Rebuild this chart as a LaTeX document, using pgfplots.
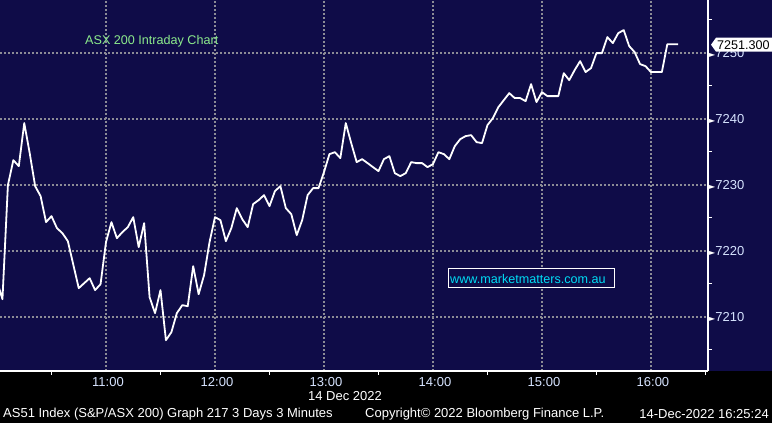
\documentclass[border=0pt]{standalone}
\usepackage{fontspec}
\setmainfont{Liberation Sans}
\newfontfamily\symfont{DejaVu Sans}
\usepackage{pgfplots}
\pgfplotsset{compat=1.18}
\definecolor{bbnavy}{RGB}{15,12,72}
\definecolor{gridgray}{RGB}{140,140,150}
\definecolor{ticktext}{RGB}{215,228,255}
\definecolor{titlegreen}{RGB}{140,235,140}
\definecolor{urlcyan}{RGB}{0,220,245}

\begin{document}
\fontsize{12.6}{15}\selectfont
\begin{tikzpicture}
\path[use as bounding box] (0,-52pt) rectangle (772pt,371pt);
\fill[black] (0,-52pt) rectangle (772pt,371pt);
\fill[bbnavy] (0,0) rectangle (772pt,371pt);
\begin{axis}[
    at={(0,0)}, anchor=south west,
    width=708pt, height=371pt, scale only axis,
    xmin=1.65, xmax=391.4, ymin=7201.8, ymax=7258.0,
    axis x line*=bottom, axis y line*=right,
    axis line style={white, line width=1.2pt},
    xtick={60,120,...,360},
    xticklabels={11:00,12:00,13:00,14:00,15:00,16:00},
    minor xtick={30,90,...,390},
    ytick={7210,7220,...,7250},
    minor ytick={7205,7215,...,7255},
    major tick length=0pt, minor tick length=4pt,
    tick align=outside,
    minor tick style={white, line width=1pt},
    xmajorgrids, ymajorgrids,
    major grid style={gridgray, line width=1.6pt, dash pattern=on 1.6pt off 2.4pt},
    /pgf/number format/assume math mode=true,
    tick label style={font=\fontsize{13}{15}\selectfont, text=ticktext},
    xticklabel style={anchor=north, yshift=-2pt, xshift=2pt},
    yticklabel style={anchor=west, inner sep=0pt, xshift=1pt},
    yticklabel={{\symfont\fontsize{8}{8}\selectfont\textcolor{white}{►}}\pgfmathprintnumber[int detect, set thousands separator={}]{\tick}},
]
% ASX 200, minutes after 10:00, 3-minute closes
\addplot[white, line width=1.8pt, line join=round] coordinates {
(0,7215.4) (3,7212.68) (6,7229.95) (9,7233.74) (12,7232.83) (15,7239.35)
(18,7234.80) (21,7229.80) (24,7228.29) (27,7224.35) (30,7225.26) (33,7223.44)
(36,7222.68) (39,7221.47) (45,7214.35) (51,7215.86) (54,7214.05) (57,7214.95)
(60,7221.32) (63,7224.35) (66,7221.92) (69,7222.83) (72,7223.59) (75,7225.11)
(78,7220.56) (81,7224.20) (84,7212.98) (87,7210.56) (90,7214.05) (93,7206.47)
(96,7207.68) (99,7210.56) (102,7211.77) (105,7211.62) (108,7217.68) (111,7213.44)
(114,7216.32) (117,7221.32) (120,7225.11) (123,7224.65) (126,7221.47) (129,7223.44)
(132,7226.47) (135,7224.80) (138,7223.59) (141,7227.08) (144,7227.68) (147,7228.44)
(150,7226.77) (153,7229.05) (156,7229.80) (159,7226.47) (162,7225.56) (165,7222.38)
(168,7224.65) (171,7228.44) (174,7229.50) (177,7229.50) (180,7231.92) (183,7234.65)
(186,7234.95) (189,7234.05) (192,7239.35) (195,7236.32) (198,7233.44) (201,7233.89)
(204,7233.29) (207,7232.68) (210,7232.08) (213,7233.89) (216,7234.35) (219,7231.77)
(222,7231.32) (225,7231.77) (228,7233.44) (231,7233.29) (234,7233.29) (237,7232.68)
(240,7233.14) (243,7234.95) (246,7234.65) (249,7233.89) (252,7235.86) (255,7236.92)
(258,7237.38) (261,7237.53) (264,7236.47) (267,7236.32) (270,7239.05) (273,7240.11)
(276,7241.77) (279,7242.83) (282,7243.89) (285,7243.14) (288,7243.14) (291,7242.68)
(294,7245.26) (297,7242.53) (300,7244.05) (303,7243.44) (306,7243.44) (309,7243.44)
(312,7246.92) (315,7245.86) (318,7247.38) (321,7248.74) (324,7247.08) (327,7247.68)
(330,7249.95) (333,7249.95) (336,7252.38) (339,7251.47) (342,7252.98) (345,7253.44)
(348,7251.02) (351,7250.11) (354,7248.29) (357,7247.98) (360,7247.08) (363,7247.08)
(366,7247.08) (369,7251.30) (372,7251.30) (375,7251.30)
};
\end{axis}
% last price callout
\fill[white] (711pt,326.3pt) -- (716pt,333.3pt) -- (772pt,333.3pt) -- (772pt,319.3pt) -- (716pt,319.3pt) -- cycle;
\node[anchor=west, text=black, inner sep=0pt] at (717pt,326.3pt) {7251.300};
% annotations
\node[anchor=west, inner sep=0pt, text=titlegreen] at (85pt,330pt) {ASX 200 Intraday Chart};
\draw[white, line width=1pt, fill=bbnavy] (448pt,83pt) rectangle (614pt,102pt);
\node[anchor=west, inner sep=0pt, text=urlcyan] at (450pt,92.5pt) {www.marketmatters.com.au};
% footer
\begin{scope}[font=\fontsize{13}{15}\selectfont]
\node[text=white, inner sep=0pt] at (345pt,-25pt) {14 Dec 2022};
\node[anchor=west, text=white, inner sep=0pt] at (3pt,-43pt) {AS51 Index (S\&P/ASX 200) Graph 217 3 Days 3 Minutes};
\node[anchor=west, text=white, inner sep=0pt] at (365pt,-43pt) {Copyright© 2022 Bloomberg Finance L.P.};
\node[anchor=east, text=white, inner sep=0pt] at (769pt,-43pt) {14-Dec-2022 16:25:24};
\end{scope}
\end{tikzpicture}
\end{document}
